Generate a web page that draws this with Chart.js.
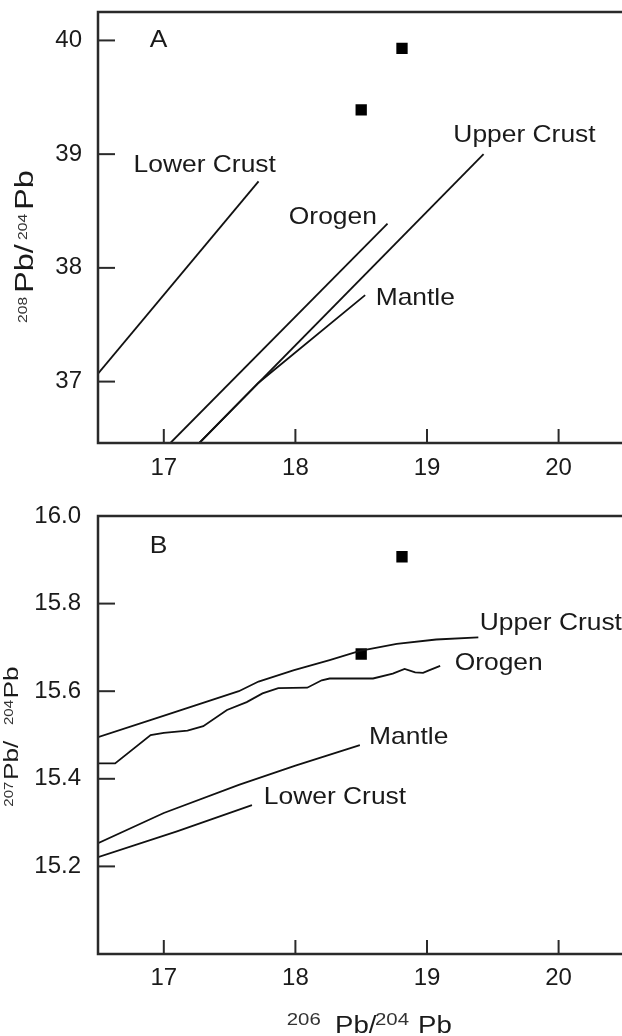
<!DOCTYPE html>
<html lang="en">
<head>
    <meta charset="UTF-8">
    <title>Pb isotope diagrams</title>
    <script src="https://cdn.jsdelivr.net/npm/chart.js@4.4.0/dist/chart.umd.min.js"></script>
    <style>
        html, body { margin: 0; padding: 0; background: #fff; overflow: hidden; width: 622px; height: 1036px; }
        .panel { position: absolute; left: 0; width: 640px; }
        #panelA { top: 0; height: 500px; }
        #panelB { top: 500px; height: 536px; }
    </style>
</head>
<body>
    <div class="panel" id="panelA"><canvas id="chartA" width="640" height="500"></canvas></div>
    <div class="panel" id="panelB"><canvas id="chartB" width="640" height="536"></canvas></div>

    <script>
        // ---- tick labels ----
        const xTicks = [17, 18, 19, 20];
        const yTicksA = [37, 38, 39, 40];
        const yTicksB = [15.2, 15.4, 15.6, 15.8, 16.0];

        // ---- data: 206Pb/204Pb on x for both panels ----
        const sampleX = [18.81, 18.50];
        const sampleA_Y = [39.93, 39.39];   // 208Pb/204Pb
        const sampleB_Y = [15.907, 15.685]; // 207Pb/204Pb

        // panel A curves (208/204)
        const lowerCrustA_X = [16.5, 17.72];
        const lowerCrustA_Y = [37.07, 38.76];
        const orogenA_X = [17.05, 18.70];
        const orogenA_Y = [36.46, 38.39];
        const upperCrustA_X = [17.27, 19.43];
        const upperCrustA_Y = [36.46, 39.00];
        const mantleA_X = [17.27, 17.72, 18.53];
        const mantleA_Y = [36.46, 36.99, 37.76];

        // panel B curves (207/204)
        const upperCrustB_X = [16.5, 17.02, 17.57, 17.72, 17.99, 18.26, 18.49, 18.77, 19.07, 19.39];
        const upperCrustB_Y = [15.495, 15.546, 15.600, 15.622, 15.648, 15.671, 15.692, 15.708, 15.718, 15.723];
        const orogenB_X = [16.5, 16.63, 16.9, 17.0, 17.18, 17.3, 17.48, 17.63, 17.75, 17.87, 18.09, 18.2, 18.26, 18.59, 18.74, 18.83, 18.91, 18.97, 19.01, 19.10];
        const orogenB_Y = [15.435, 15.435, 15.50, 15.505, 15.51, 15.52, 15.557, 15.575, 15.595, 15.607, 15.608, 15.625, 15.629, 15.629, 15.64, 15.651, 15.643, 15.642, 15.647, 15.658];
        const mantleB_X = [16.5, 17.0, 17.57, 18.0, 18.49];
        const mantleB_Y = [15.253, 15.322, 15.386, 15.43, 15.477];
        const lowerCrustB_X = [16.5, 17.1, 17.67];
        const lowerCrustB_Y = [15.221, 15.28, 15.34];

        // curve labels (data coordinates of left end / baseline)
        const notesA = [
            { text: 'A', x: 16.96, y: 39.94, align: 'center' },
            { text: 'Lower Crust', x: 16.77, y: 38.84 },
            { text: 'Upper Crust', x: 19.20, y: 39.11 },
            { text: 'Orogen', x: 17.95, y: 38.385 },
            { text: 'Mantle', x: 18.61, y: 37.673 }
        ];
        const notesB = [
            { text: 'B', x: 16.96, y: 15.916, align: 'center' },
            { text: 'Upper Crust', x: 19.40, y: 15.740 },
            { text: 'Orogen', x: 19.21, y: 15.648 },
            { text: 'Mantle', x: 18.56, y: 15.479 },
            { text: 'Lower Crust', x: 17.76, y: 15.342 }
        ];

        const FONT = "'Liberation Sans', Arial, sans-serif";
        const INK = '#1a1a1a';

        function zip(xs, ys) {
            return xs.map((x, i) => ({ x: x, y: ys[i] }));
        }

        function curve(xs, ys) {
            return {
                data: zip(xs, ys),
                showLine: true,
                borderColor: '#111',
                borderWidth: 1.8,
                pointRadius: 0,
                tension: 0,
                fill: false
            };
        }

        function samples(xs, ys) {
            return {
                data: zip(xs, ys),
                showLine: false,
                pointStyle: 'rect',
                pointRadius: 8,
                backgroundColor: '#000',
                borderWidth: 0
            };
        }

        // draw stretched text (the original type is a bit wide)
        function wideText(ctx, text, x, y, size, sx, align) {
            ctx.save();
            ctx.translate(x, y);
            ctx.scale(sx, 1);
            ctx.font = size + 'px ' + FONT;
            ctx.textAlign = align || 'left';
            ctx.textBaseline = 'alphabetic';
            ctx.fillText(text, 0, 0);
            ctx.restore();
        }

        // axis titles with superscript mass numbers
        function richTitle(ctx, ox, oy, angle, sx, pieces) {
            ctx.save();
            ctx.translate(ox, oy);
            ctx.rotate(angle);
            pieces.forEach(p => {
                ctx.save();
                ctx.translate(p.off, -p.rise);
                ctx.scale(sx, 1);
                ctx.fillStyle = p.rise ? '#333' : INK;
                ctx.font = p.size + 'px ' + FONT;
                ctx.textBaseline = 'alphabetic';
                ctx.fillText(p.t, 0, 0);
                ctx.restore();
            });
            ctx.restore();
        }

        // box, inward tick marks, labels, titles
        function decor(notes, titles) {
            return {
                id: 'decor',
                afterDraw(chart) {
                    const { ctx, chartArea: a, scales: { x, y } } = chart;
                    ctx.save();
                    ctx.strokeStyle = '#2a2a2a';
                    ctx.lineWidth = 2.5;
                    ctx.strokeRect(a.left, a.top, a.right - a.left, a.bottom - a.top);

                    ctx.lineWidth = 2;
                    x.ticks.forEach(t => {
                        const px = x.getPixelForValue(t.value);
                        ctx.beginPath();
                        ctx.moveTo(px, a.bottom);
                        ctx.lineTo(px, a.bottom - 14);
                        ctx.stroke();
                    });
                    y.ticks.forEach(t => {
                        const py = y.getPixelForValue(t.value);
                        if (py > a.bottom - 2 || py < a.top + 2) return;
                        ctx.beginPath();
                        ctx.moveTo(a.left, py);
                        ctx.lineTo(a.left + 17, py);
                        ctx.stroke();
                    });

                    ctx.fillStyle = INK;
                    notes.forEach(n => {
                        wideText(ctx, n.text, x.getPixelForValue(n.x), y.getPixelForValue(n.y), 24, 1.1, n.align);
                    });

                    titles.forEach(tt => richTitle(ctx, tt.x, tt.y, tt.angle, tt.sx, tt.pieces));
                    ctx.restore();
                }
            };
        }

        function scales(yMin, yMax, yTicks, yPad, xHeight, xPad, yFmt) {
            return {
                x: {
                    type: 'linear',
                    min: 16.5,
                    max: 20.5,
                    grid: { display: false, drawTicks: false },
                    border: { display: false },
                    afterBuildTicks(s) { s.ticks = xTicks.map(v => ({ value: v })); },
                    ticks: {
                        autoSkip: false,
                        maxRotation: 0,
                        padding: xPad,
                        color: INK,
                        font: { family: FONT, size: 24 },
                        callback: v => String(v)
                    },
                    afterFit(s) { s.height = xHeight; s.paddingLeft = 0; s.paddingRight = 0; }
                },
                y: {
                    type: 'linear',
                    min: yMin,
                    max: yMax,
                    grid: { display: false, drawTicks: false },
                    border: { display: false },
                    afterBuildTicks(s) { s.ticks = yTicks.map(v => ({ value: v })); },
                    ticks: {
                        autoSkip: false,
                        padding: yPad,
                        color: INK,
                        font: { family: FONT, size: 24 },
                        callback: yFmt
                    },
                    afterFit(s) { s.width = 98; s.paddingTop = 0; s.paddingBottom = 0; }
                }
            };
        }

        const baseOpts = {
            responsive: false,
            animation: false,
            plugins: { legend: { display: false }, tooltip: { enabled: false } }
        };

        new Chart(document.getElementById('chartA'), {
            type: 'scatter',
            data: {
                datasets: [
                    curve(lowerCrustA_X, lowerCrustA_Y),
                    curve(orogenA_X, orogenA_Y),
                    curve(upperCrustA_X, upperCrustA_Y),
                    curve(mantleA_X, mantleA_Y),
                    samples(sampleX, sampleA_Y)
                ]
            },
            options: Object.assign({}, baseOpts, {
                layout: { padding: { left: 0, top: 12, right: 15.6, bottom: 0 } },
                scales: scales(36.46, 40.25, yTicksA, 16, 57, 11, v => String(v))
            }),
            plugins: [decor(notesA, [{
                x: 33, y: 323, angle: -Math.PI / 2, sx: 1.25,
                pieces: [
                    { t: '208', size: 12.5, off: 0, rise: 6 },
                    { t: 'Pb/', size: 26, off: 30, rise: 0 },
                    { t: '204', size: 12.5, off: 83, rise: 6 },
                    { t: 'Pb', size: 26, off: 113, rise: 0 }
                ]
            }])]
        });

        new Chart(document.getElementById('chartB'), {
            type: 'scatter',
            data: {
                datasets: [
                    curve(upperCrustB_X, upperCrustB_Y),
                    curve(orogenB_X, orogenB_Y),
                    curve(mantleB_X, mantleB_Y),
                    curve(lowerCrustB_X, lowerCrustB_Y),
                    samples(sampleX, sampleB_Y)
                ]
            },
            options: Object.assign({}, baseOpts, {
                layout: { padding: { left: 0, top: 16, right: 15.6, bottom: 0 } },
                scales: scales(15.0, 16.0, yTicksB, 17, 82, 10, v => Number(v).toFixed(1))
            }),
            plugins: [decor(notesB, [
                {
                    x: 18, y: 306.7, angle: -Math.PI / 2, sx: 1.25,
                    pieces: [
                        { t: '207', size: 12, off: 0, rise: 5 },
                        { t: 'Pb/', size: 21, off: 26.7, rise: 0 },
                        { t: '204', size: 12, off: 81.7, rise: 5 },
                        { t: 'Pb', size: 21, off: 108.3, rise: 0 }
                    ]
                },
                {
                    x: 286.7, y: 533, angle: 0, sx: 1.2,
                    pieces: [
                        { t: '206', size: 17, off: 0, rise: 8 },
                        { t: 'Pb/', size: 23, off: 48.3, rise: 0 },
                        { t: '204', size: 17, off: 88.3, rise: 8 },
                        { t: 'Pb', size: 23, off: 131.3, rise: 0 }
                    ]
                }
            ])]
        });
    </script>
</body>
</html>
